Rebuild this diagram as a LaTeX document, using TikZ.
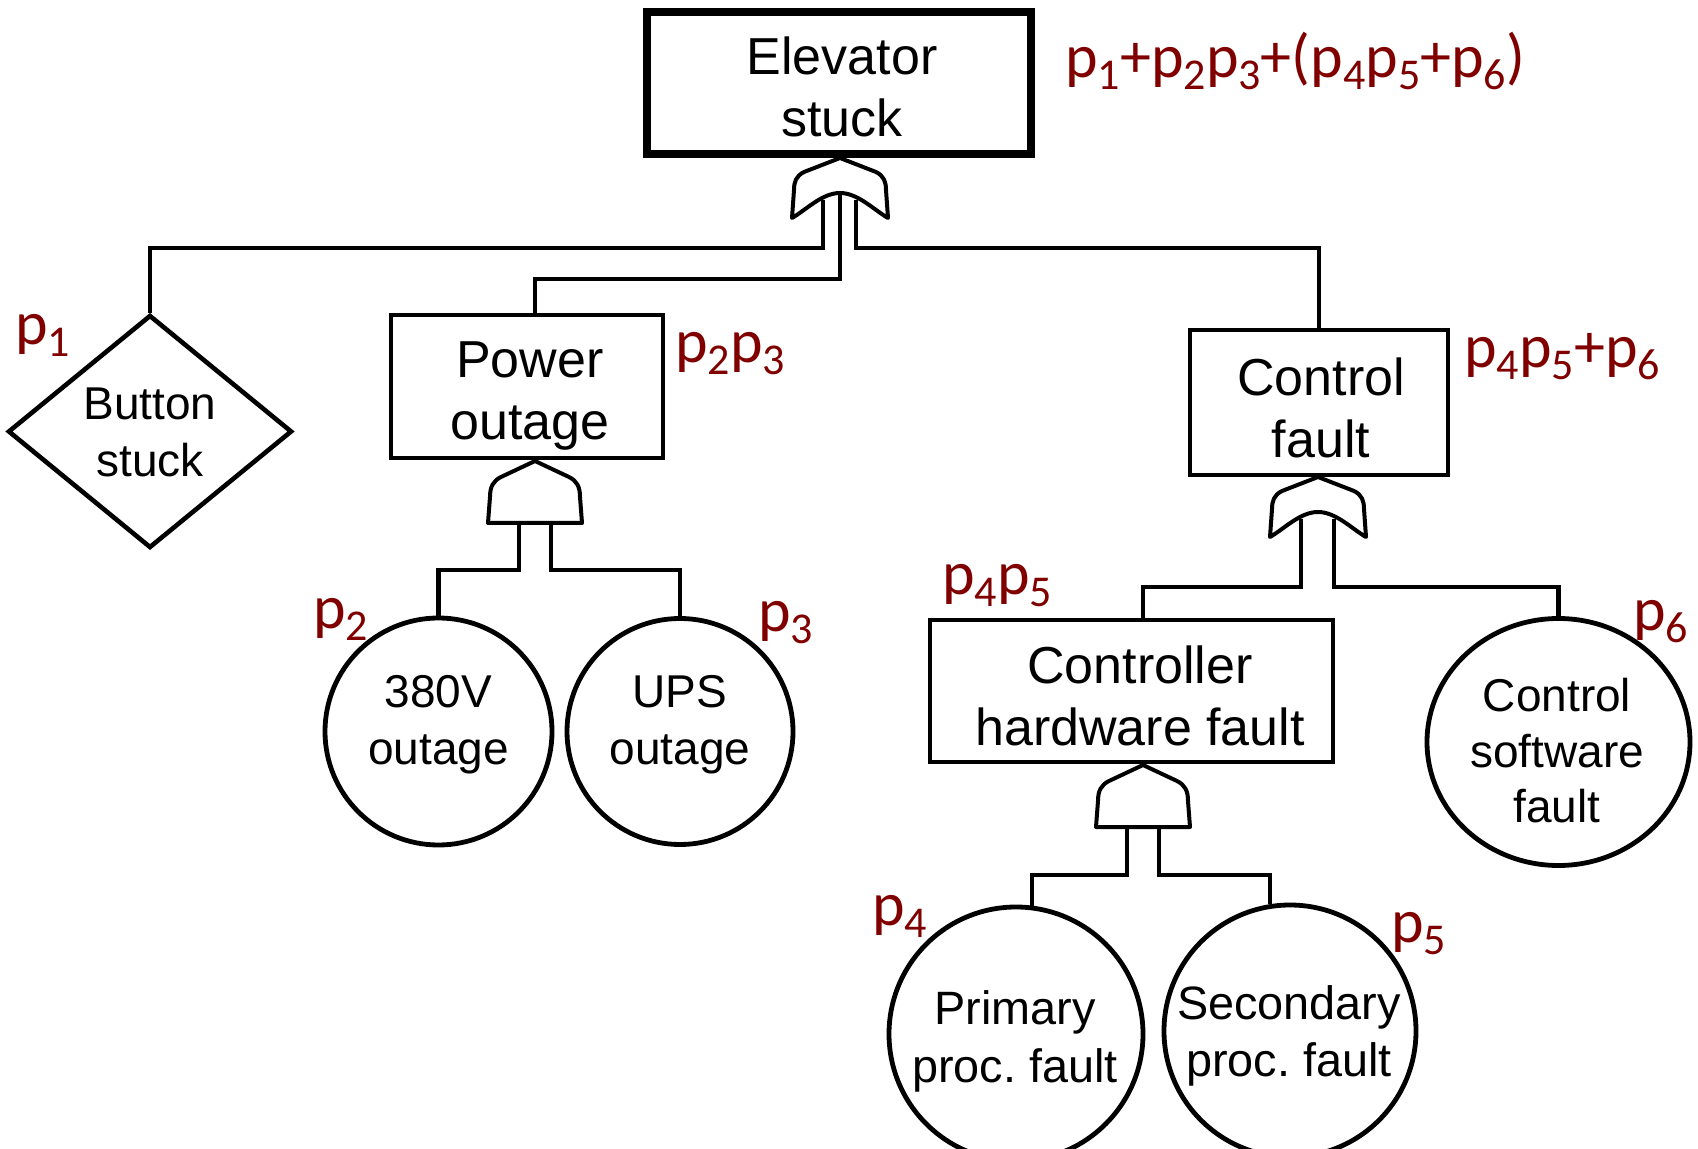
\documentclass[tikz,border=0pt]{standalone}
\usepackage{fontspec}
\usetikzlibrary{shapes.geometric,backgrounds}
\newfontfamily\arialf{Liberation Sans}
\newfontfamily\calf{Carlito}
\definecolor{pred}{RGB}{128,0,0}
\newcommand\pv[1]{p\raisebox{-6pt}{\fontsize{22}{22}\selectfont #1}}
\frenchspacing
\tikzset{
  gateline/.style={draw, fill=white, line width=2pt, line join=round},
  orgate/.pic={
    \path[gateline] (0,0) -- (-36,14) .. controls (-44,18) and (-46,24) .. (-46,32)
      -- (-48,60) .. controls (-34,52) and (-18,35) .. (0,35)
      .. controls (18,35) and (34,52) .. (48,60)
      -- (46,32) .. controls (46,24) and (44,18) .. (36,14) -- cycle;
    \coordinate (-apex) at (0,0);
    \coordinate (-l) at (-17,42);
    \coordinate (-m) at (0,30);
    \coordinate (-r) at (16,42);
  },
  andgate/.pic={
    \path[gateline] (0,0) -- (-34,16) .. controls (-42,20) and (-45,26) .. (-45,36)
      -- (-47,62) -- (47,62) -- (45,36) .. controls (45,26) and (42,20) .. (34,16) -- cycle;
    \coordinate (-apex) at (0,0);
    \coordinate (-l) at (-16,56);
    \coordinate (-r) at (16,56);
  }
}
\begin{document}
\begin{tikzpicture}[x=0.5pt,y=-0.5pt,
  box/.style={draw, line width=2.3pt, rectangle, inner sep=0pt},
  evt/.style={draw, line width=2.4pt, ellipse, inner sep=0pt},
  diam/.style={draw, line width=2.3pt, diamond, inner sep=0pt},
  txt/.style={inner sep=0pt, align=center, font=\arialf\fontsize{23}{28.5}\selectfont},
  btxt/.style={inner sep=0pt, align=center, font=\arialf\fontsize{26}{31}\selectfont},
  wire/.style={line width=2.2pt},
  prob/.style={text=pred, inner sep=0pt, anchor=base west, font=\calf\fontsize{31}{31}\selectfont}]
\useasboundingbox (0,0) rectangle (1698,1149);

% events
\node[box, line width=4pt, minimum width=192pt, minimum height=71pt] (top) at (839,83) {};
\node[btxt] (topt) at (842,87) {Elevator\\stuck};
\node[diam, minimum width=142pt, minimum height=116.5pt] (btn) at (150,431.5) {};
\node[txt] (btnt) at (150,432) {Button\\stuck};
\node[box, minimum width=136pt, minimum height=71.5pt] (pwr) at (527,386.5) {};
\node[btxt] (pwrt) at (530,396) {Power\\outage};
\node[box, minimum width=129pt, minimum height=72.5pt] (ctl) at (1319,402.5) {};
\node[btxt] (ctlt) at (1321,408) {Control\\fault};
\node[box, minimum width=201.5pt, minimum height=71pt] (hw) at (1131.5,691) {};
\node[btxt] (hwt) at (1140,696) {Controller\\hardware fault};
\node[evt, minimum width=113.5pt, minimum height=113.5pt] (v380) at (438.5,731.5) {};
\node[txt] (v380t) at (438.5,725) {380V\\outage};
\node[evt, minimum width=113pt, minimum height=113pt] (ups) at (680,731.5) {};
\node[txt] (upst) at (680,725) {UPS\\outage};
\node[evt, minimum width=131.5pt, minimum height=123.5pt] (sw) at (1558.5,742) {};
\node[txt, font=\arialf\fontsize{23}{27.75}\selectfont] (swt) at (1557,751) {Control\\software\\fault};
\node[evt, minimum width=127pt, minimum height=127pt] (prim) at (1016,1034) {};
\node[txt, font=\arialf\fontsize{23.4}{29}\selectfont] (primt) at (1015,1041) {Primary\\proc. fault};
\node[evt, minimum width=126pt, minimum height=126pt] (sec) at (1290,1031) {};
\node[txt, font=\arialf\fontsize{23.4}{28.5}\selectfont] (sect) at (1289,1036) {Secondary\\proc. fault};

% gates
\pic (g1) at (840,158) {orgate};
\pic (g2) at (535,461) {andgate};
\pic (g3) at (1318,477) {orgate};
\pic (g4) at (1143,765) {andgate};

% connectors
\begin{scope}[on background layer]
\draw[wire] (g1-l) -- ++(0,48) -| (btn.north);
\draw[wire] (g1-m) -- ++(0,91) -| (pwr.north -| g2-apex);
\draw[wire] (g1-r) -- ++(0,48) -| (ctl.north);
\draw[wire] (g2-l) -- ++(0,53) -| (v380.north);
\draw[wire] (g2-r) -- ++(0,53) -| (ups.north);
\draw[wire] (g3-l) -- ++(0,68) -| (hw.north -| g4-apex);
\draw[wire] (g3-r) -- ++(0,68) -| (sw.north);
\draw[wire] (g4-l) -- ++(0,54) -| (prim.83);
\draw[wire] (g4-r) -- ++(0,54) -| (sec.99);
\end{scope}

% probabilities
\node[prob] (pt) at (1065,78) {\pv1+\pv2\pv3+(\pv4\pv5+\pv6)};
\node[prob] (p1) at (15,345) {\pv1};
\node[prob] (p23) at (675,363) {\pv2\pv3};
\node[prob] (p2) at (313,629) {\pv2};
\node[prob] (p3) at (758,632) {\pv3};
\node[prob] (p456) at (1464,368) {\pv4\pv5+\pv6};
\node[prob] (p45) at (942,595) {\pv4\pv5};
\node[prob] (p6) at (1633,631) {\pv6};
\node[prob] (p4) at (872,925) {\pv4};
\node[prob] (p5) at (1391,942) {\pv5};
\end{tikzpicture}
\end{document}
